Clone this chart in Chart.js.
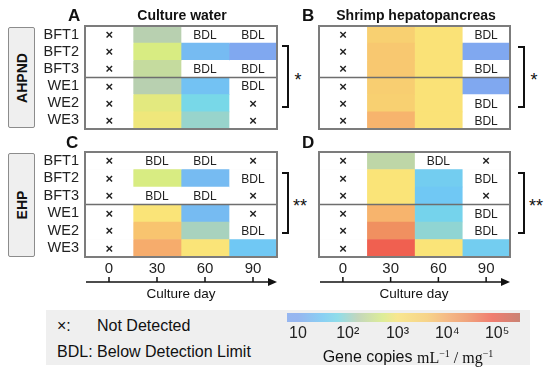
<!DOCTYPE html>
<html>
<head>
<meta charset="utf-8">
<script src="https://cdn.jsdelivr.net/npm/chart.js@4/dist/chart.umd.min.js"></script>
<style>
  body { margin: 0; background: #fff; }
  #fig { position: relative; width: 550px; height: 367px; overflow: hidden; font-family: Arial, 'Liberation Sans', sans-serif; color: #111; }
  canvas { position: absolute; }
  .t { position: absolute; white-space: nowrap; }
  .side { position: absolute; box-sizing: border-box; border: 1px solid #8c8c8c; background: #efefef; border-radius: 2px; }
  .side span { position: absolute; left: 50%; top: 50%; transform: translate(-50%, -50%) rotate(-90deg); font-weight: bold; font-size: 14px; white-space: nowrap; }
  .brk { position: absolute; box-sizing: border-box; border: 2px solid #111; border-left: none; }
  .legend { position: absolute; left: 46px; top: 310px; width: 484px; height: 55px; background: #efefef; }
  .serif { font-family: 'Liberation Serif', 'Times New Roman', serif; }
</style>
</head>
<body>
<div id="fig">
  <div class="legend"></div>
  <div class="side" style="left:8px;top:27px;width:27px;height:101px"><span>AHPND</span></div>
  <div class="side" style="left:8px;top:153px;width:27px;height:104px"><span>EHP</span></div>
  <div class="brk" style="left:282px;top:45px;width:7px;height:63px"></div>
  <div class="brk" style="left:518px;top:46px;width:7px;height:62px"></div>
  <div class="brk" style="left:282px;top:172px;width:7px;height:62px"></div>
  <div class="brk" style="left:518px;top:172px;width:7px;height:62px"></div>
  <canvas id="panelA" width="240" height="112" style="left:40px;top:20px"></canvas>
  <canvas id="panelB" width="200" height="112" style="left:315px;top:20px"></canvas>
  <canvas id="panelC" width="240" height="150" style="left:40px;top:140px"></canvas>
  <canvas id="panelD" width="200" height="150" style="left:315px;top:140px"></canvas>
  <canvas id="cbar" width="250" height="40" style="left:280px;top:306px"></canvas>
</div>
<script>
const FONT = "Arial, 'Liberation Sans', sans-serif";
Chart.defaults.font.family = FONT;

const rows = ['BFT1', 'BFT2', 'BFT3', 'WE1', 'WE2', 'WE3'];
const days = ['0', '30', '60', '90'];

// log10 gene copies per cell, 'x' = not detected, 'BDL' = below detection limit
const waterAhpnd = [
    ['x', 2.2, 'BDL', 'BDL'],
    ['x', 2.7, 1.3, 1.0],
    ['x', 2.4, 'BDL', 'BDL'],
    ['x', 2.2, 1.4, 'BDL'],
    ['x', 2.8, 1.8, 'x'],
    ['x', 2.9, 2.0, 'x']
];
const shrimpAhpnd = [
    ['x', 3.5, 3.05, 'BDL'],
    ['x', 3.65, 3.05, 1.0],
    ['x', 3.65, 3.05, 'BDL'],
    ['x', 3.55, 3.05, 1.0],
    ['x', 3.5, 3.05, 'BDL'],
    ['x', 3.9, 3.05, 'BDL']
];
const waterEhp = [
    ['x', 'BDL', 'BDL', 'x'],
    ['x', 2.7, 1.3, 'BDL'],
    ['x', 'BDL', 'BDL', 'x'],
    ['x', 3.0, 1.3, 'x'],
    ['x', 3.7, 2.1, 'BDL'],
    ['x', 4.0, 3.0, 1.5]
];
const shrimpEhp = [
    ['x', 2.3, 'BDL', 'x'],
    ['x', 3.0, 1.6, 'BDL'],
    ['x', 3.0, 1.5, 'x'],
    ['x', 3.9, 1.7, 'BDL'],
    ['x', 4.4, 1.95, 'BDL'],
    ['x', 4.9, 3.0, 1.6]
];

// colour bar
const cbarRange = [0.78, 5.46];
const cbarTicks = [10, 100, 1000, 10000, 100000];
const cbarLabels = ['10', '10²', '10³', '10⁴', '10⁵'];

// colour map (log10 value -> rgb)
const cmap = [
    [1.0, [128, 168, 240]],
    [1.5, [112, 200, 244]],
    [1.8, [120, 216, 232]],
    [2.2, [184, 208, 176]],
    [2.7, [216, 236, 130]],
    [3.0, [250, 228, 120]],
    [3.6, [248, 204, 112]],
    [4.0, [246, 172, 108]],
    [4.4, [240, 144, 96]],
    [4.9, [240, 96, 80]],
    [5.5, [190, 104, 84]]
];

function rgbAt(v) {
    if (v <= cmap[0][0]) return cmap[0][1];
    for (let i = 1; i < cmap.length; i++) {
        if (v <= cmap[i][0]) {
            const [a, ca] = cmap[i - 1], [b, cb] = cmap[i];
            const t = (v - a) / (b - a);
            return ca.map((x, k) => Math.round(x + (cb[k] - x) * t));
        }
    }
    return cmap[cmap.length - 1][1];
}

function cellColor(v) {
    if (typeof v !== 'number') return '#ffffff';
    return 'rgb(' + rgbAt(v).join(',') + ')';
}

// texte des cellules + cadre + flèche
function panelPlugin(values, showDays) {
    return {
        id: 'panelMarks',
        afterDatasetsDraw(chart) {
            const ctx = chart.ctx;
            chart.data.datasets.forEach((ds, c) => {
                chart.getDatasetMeta(c).data.forEach((bar, r) => {
                    const v = values[r][c];
                    if (typeof v === 'number') return;
                    const p = bar.getCenterPoint();
                    ctx.save();
                    ctx.fillStyle = '#222';
                    ctx.textAlign = 'center';
                    ctx.textBaseline = 'middle';
                    ctx.font = v === 'x' ? 'bold 13px ' + FONT : '12px ' + FONT;
                    ctx.fillText(v === 'x' ? '×' : 'BDL', p.x, p.y + 1);
                    ctx.restore();
                });
            });
        },
        afterDraw(chart) {
            const ctx = chart.ctx;
            const a = chart.chartArea;
            const y = chart.scales.y;
            ctx.save();
            ctx.strokeStyle = '#6e6e6e';
            ctx.lineWidth = 1.5;
            const sep = y.getPixelForValue(2.5);
            ctx.beginPath();
            ctx.moveTo(a.left, sep);
            ctx.lineTo(a.right, sep);
            ctx.stroke();
            ctx.strokeStyle = '#7c7c7c';
            ctx.lineWidth = 2;
            ctx.strokeRect(a.left, a.top, a.right - a.left, a.bottom - a.top);
            if (showDays) {
                const ay = a.bottom + 25;
                ctx.strokeStyle = '#111';
                ctx.fillStyle = '#111';
                ctx.lineWidth = 1.5;
                ctx.beginPath();
                ctx.moveTo(a.left + 1, ay);
                ctx.lineTo(a.right - 6, ay);
                ctx.stroke();
                ctx.beginPath();
                ctx.moveTo(a.right, ay);
                ctx.lineTo(a.right - 9, ay - 4);
                ctx.lineTo(a.right - 9, ay + 4);
                ctx.closePath();
                ctx.fill();
                const xd = chart.scales.x2;
                days.forEach((d, i) => {
                    const px = xd.getPixelForValue(i);
                    ctx.beginPath();
                    ctx.moveTo(px, ay - 5);
                    ctx.lineTo(px, ay);
                    ctx.stroke();
                });
            }
            ctx.restore();
        }
    };
}

function noPad(s) {
    s.paddingTop = 0;
    s.paddingBottom = 0;
    s.paddingLeft = 0;
    s.paddingRight = 0;
}

function makePanel(id, values, showRows, showDays, pad) {
    const datasets = days.map((d, c) => ({
        data: rows.map(() => [c, c + 1]),
        backgroundColor: values.map(r => cellColor(r[c])),
        borderWidth: 0,
        barPercentage: 1,
        categoryPercentage: 1,
        grouped: false
    }));
    return new Chart(document.getElementById(id), {
        type: 'bar',
        data: { labels: rows, datasets: datasets },
        options: {
            indexAxis: 'y',
            responsive: false,
            animation: false,
            events: [],
            layout: { padding: pad, autoPadding: false },
            plugins: { legend: { display: false }, tooltip: { enabled: false } },
            scales: {
                x: {
                    type: 'linear', min: 0, max: 4, z: 1,
                    ticks: { display: false, stepSize: 1 },
                    grid: { color: '#dcdcdc', drawTicks: false },
                    border: { display: false },
                    afterFit: s => { s.height = 0; noPad(s); }
                },
                y: {
                    z: 1,
                    offset: true,
                    grid: { offset: true, color: '#dcdcdc', drawTicks: false },
                    border: { display: false },
                    ticks: { display: showRows, autoSkip: false, padding: 6, color: '#222', font: { size: 14.5 } },
                    afterFit: s => { s.width = showRows ? 45 : 0; noPad(s); }
                },
                x2: {
                    type: 'category', labels: days, offset: true, position: 'bottom',
                    display: showDays,
                    grid: { display: false, drawTicks: false },
                    border: { display: false },
                    ticks: { padding: 3, color: '#222', font: { size: 15 } },
                    afterFit: s => { s.height = showDays ? 33 : 0; noPad(s); }
                }
            }
        },
        plugins: [panelPlugin(values, showDays)]
    });
}

makePanel('panelA', waterAhpnd, true, false, { left: 0, right: 3, top: 6, bottom: 3 });
makePanel('panelB', shrimpAhpnd, false, false, { left: 4, right: 5, top: 6, bottom: 3 });
makePanel('panelC', waterEhp, true, true, { left: 0, right: 3, top: 12, bottom: 0 });
makePanel('panelD', shrimpEhp, false, true, { left: 4, right: 5, top: 12, bottom: 0 });

// barre de couleurs
const lo = 10 ** cbarRange[0], hi = 10 ** cbarRange[1];
function cbarGradient(chart) {
    const a = chart.chartArea;
    if (!a) return '#ccc';
    const g = chart.ctx.createLinearGradient(a.left, 0, a.right, 0);
    const span = cbarRange[1] - cbarRange[0];
    const rgba = v => 'rgba(' + rgbAt(v).join(',') + ',0.8)';
    g.addColorStop(0, rgba(cbarRange[0]));
    cmap.forEach(([v]) => {
        const t = (v - cbarRange[0]) / span;
        if (t > 0 && t < 1) g.addColorStop(t, rgba(v));
    });
    g.addColorStop(1, rgba(cbarRange[1]));
    return g;
}

new Chart(document.getElementById('cbar'), {
    type: 'bar',
    data: {
        labels: [''],
        datasets: [{
            data: [[lo, hi]],
            backgroundColor: ctx => cbarGradient(ctx.chart),
            borderWidth: 0,
            barPercentage: 1,
            categoryPercentage: 1
        }]
    },
    options: {
        indexAxis: 'y',
        responsive: false,
        animation: false,
        events: [],
        layout: { padding: { left: 7, right: 10, top: 7, bottom: 0 }, autoPadding: false },
        plugins: { legend: { display: false }, tooltip: { enabled: false } },
        scales: {
            x: {
                type: 'logarithmic', min: lo, max: hi,
                afterBuildTicks: s => { s.ticks = cbarTicks.map(v => ({ value: v })); },
                ticks: {
                    callback: (v, i) => cbarLabels[i],
                    padding: 2, color: '#222', font: { size: 16 },
                    maxRotation: 0, autoSkip: false
                },
                grid: { display: false, drawTicks: false },
                border: { display: false },
                afterFit: s => { s.height = 24; noPad(s); }
            },
            y: {
                ticks: { display: false },
                grid: { display: false, drawTicks: false },
                border: { display: false },
                afterFit: s => { s.width = 0; noPad(s); }
            }
        }
    }
});

// textes libres (x, ligne de base)
const fig = document.getElementById('fig');
function addText(html, x, base, size, opts) {
    opts = opts || {};
    const el = document.createElement('div');
    el.className = 't';
    el.innerHTML = html;
    el.style.fontSize = size + 'px';
    el.style.lineHeight = size + 'px';
    el.style.left = x + 'px';
    el.style.top = (base - 0.85 * size) + 'px';
    if (opts.bold) el.style.fontWeight = 'bold';
    if (opts.center) el.style.transform = 'translateX(-50%)';
    fig.appendChild(el);
}

addText('A', 68, 21, 17, { bold: true });
addText('Culture water', 182, 20, 14, { bold: true, center: true });
addText('B', 302, 21, 17, { bold: true });
addText('Shrimp hepatopancreas', 416, 20, 14, { bold: true, center: true });
addText('C', 66, 148, 17, { bold: true });
addText('D', 302, 148, 17, { bold: true });
addText('*', 298, 86, 18, { center: true });
addText('*', 534, 86, 18, { center: true });
addText('**', 300, 212, 18, { center: true });
addText('**', 536, 212, 18, { center: true });
addText('Culture day', 181, 298, 13.5, { center: true });
addText('Culture day', 414, 298, 13.5, { center: true });
addText('×:', 57, 332, 16);
addText('Not Detected', 97, 332, 16);
addText('BDL: Below Detection Limit', 57, 358, 16);
addText('Gene copies <span class="serif">mL<sup style="font-size:10px">−1</sup> / mg<sup style="font-size:10px">−1</sup></span>', 408, 359, 16, { center: true });
</script>
</body>
</html>
